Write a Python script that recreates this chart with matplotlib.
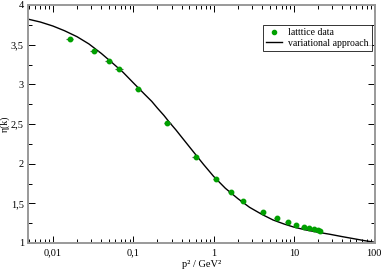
import matplotlib
matplotlib.use('Agg')
import matplotlib.pyplot as plt
from matplotlib.lines import Line2D
from matplotlib.ticker import FixedLocator, FuncFormatter, LogLocator, NullFormatter

# lattice data points (p^2 in GeV^2, eta)
lat_p2 = [0.0162, 0.0326, 0.050, 0.0668, 0.1155, 0.266, 0.596, 1.06, 1.63,
          2.30, 4.10, 6.13, 8.41, 10.6, 13.3, 15.4, 17.8, 19.9, 21.1]
lat_eta = [3.57, 3.42, 3.29, 3.19, 2.94, 2.51, 2.08, 1.81, 1.64,
           1.53, 1.39, 1.315, 1.265, 1.227, 1.20, 1.19, 1.175, 1.165, 1.155]
lat_xerr = [0.0018, 0.0035, 0.005, 0.007, 0.011, 0.025, 0.05, 0.09, 0.13,
            0.18, 0.3, 0.45, 0.6, 0.7, 0.9, 1.0, 1.1, 1.2, 1.3]

# variational curve
var_p2 = [0.005, 0.007, 0.01, 0.014, 0.02, 0.028, 0.04, 0.055, 0.075, 0.1,
          0.14, 0.17, 0.2, 0.24, 0.28, 0.34, 0.4, 0.55, 0.75, 1.0, 1.4, 2.0, 2.8, 4.0,
          5.5, 7.5, 10.0, 14.0, 20.0, 28.0, 40.0, 55.0, 75.0, 100.0]
var_eta = [3.82, 3.785, 3.735, 3.675, 3.60, 3.51, 3.39, 3.27, 3.15, 3.02,
           2.87, 2.785, 2.70, 2.61, 2.525, 2.425, 2.335, 2.16, 1.99, 1.84, 1.69, 1.56, 1.45, 1.36,
           1.29, 1.24, 1.20, 1.165, 1.135, 1.11, 1.08, 1.055, 1.03, 1.01]

y_ticks = [1, 1.5, 2, 2.5, 3, 3.5, 4]
x_ticks = [0.01, 0.1, 1, 10, 100]
x_labels = ['0,01', '0,1', '1', '10', '100']

plt.rcParams['font.family'] = ['Liberation Serif', 'DejaVu Serif']
plt.rcParams['font.size'] = 7.5

fig = plt.figure(figsize=(3.82, 2.74), dpi=100)
ax = fig.add_axes([28 / 382, 31 / 274, 347 / 382, 238 / 274])

ax.plot(var_p2, var_eta, color='black', lw=1.0, zorder=2)
ax.errorbar(lat_p2, lat_eta, xerr=lat_xerr, fmt='o', color='#00a000', ms=3.2,
            ecolor='#555555', elinewidth=0.8, capsize=0, zorder=3)

ax.set_xscale('log')
ax.set_xlim(0.0049, 102)
ax.set_ylim(1, 4)

ax.xaxis.set_major_locator(FixedLocator(x_ticks))
ax.xaxis.set_major_formatter(FuncFormatter(lambda v, p: x_labels[x_ticks.index(v)] if v in x_ticks else ''))
ax.xaxis.set_minor_locator(LogLocator(base=10, subs=range(2, 10)))
ax.xaxis.set_minor_formatter(NullFormatter())

ax.yaxis.set_major_locator(FixedLocator(y_ticks))
ax.yaxis.set_major_formatter(FuncFormatter(lambda v, p: ('%g' % v).replace('.', ',')))
ax.yaxis.set_minor_locator(FixedLocator([1.25, 1.75, 2.25, 2.75, 3.25, 3.75]))

ax.tick_params(which='both', direction='in', top=True, right=True, color='black', width=0.7)
ax.tick_params(which='major', length=5, labelsize=7.5)
ax.tick_params(axis='x', which='major', pad=4)
ax.tick_params(axis='y', which='major', pad=3)
ax.tick_params(which='minor', length=3)

for s in ax.spines.values():
    s.set_color('#999999')
    s.set_linewidth(1.4)

ax.set_xlabel('p² / GeV²', fontsize=7.5, labelpad=2)
ax.set_ylabel('η(k)', fontsize=7)
ax.yaxis.label.set_va('center')
ax.yaxis.set_label_coords(-22.5 / 347, 0.5)

handles = [Line2D([], [], ls='none', marker='o', color='#00a000', ms=3),
           Line2D([], [], color='black', lw=1.0)]
labels = ['latttice data', 'variational approach']
leg = ax.legend(handles, labels, loc='upper right', bbox_to_anchor=(0.998, 0.925),
                fontsize=7, frameon=True, fancybox=False, edgecolor='black',
                handlelength=1.6, borderpad=0.35, labelspacing=0.15, handletextpad=0.7,
                borderaxespad=0.2)
leg.get_frame().set_linewidth(0.7)

fig.savefig('out.png', dpi=100)
